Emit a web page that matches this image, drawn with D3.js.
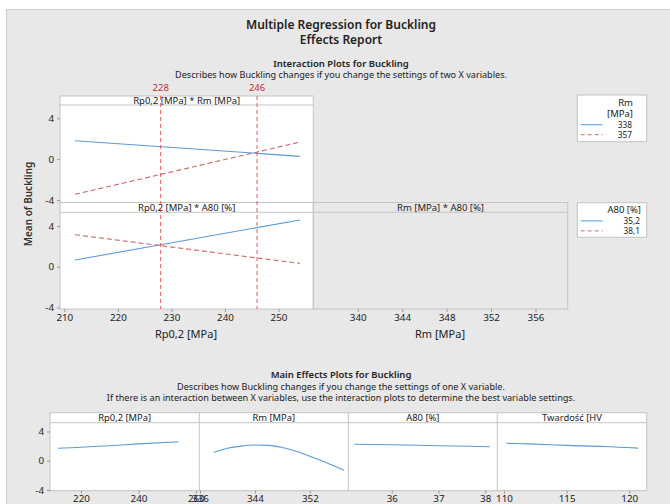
<!DOCTYPE html>
<html><head><meta charset="utf-8">
<script src="https://cdn.jsdelivr.net/npm/d3@7"></script>
<style>
html,body{margin:0;padding:0;background:#fff;}
svg text{font-family:"Noto Sans","Open Sans",sans-serif;}
</style></head>
<body><svg id="chart" width="670" height="504"></svg>
<script>
// ---------- data ----------
const rpEnds = [212, 254];
const rpRm338 = [1.8, 0.27];
const rpRm357 = [-3.45, 1.67];
const rpA80_352 = [0.66, 4.6];
const rpA80_381 = [3.15, 0.33];
const refLines = [228, 246];
const interYTicks = [4, 0, -4];
const rpTicks = [210, 220, 230, 240, 250];
const rmTicks = [340, 344, 348, 352, 356];

const mainRpX = [212, 220, 230, 240, 254];
const mainRpY = [1.7, 1.85, 2.05, 2.3, 2.6];
const mainRmX = [338, 340, 342, 344, 346, 348, 350, 352, 354, 356, 357];
const mainRmY = [1.15, 1.7, 2.0, 2.15, 2.1, 1.8, 1.3, 0.6, -0.1, -0.9, -1.3];
const mainA80X = [35.2, 36, 37, 38.1];
const mainA80Y = [2.25, 2.18, 2.05, 1.92];
const mainHVX = [110.2, 112, 115, 118, 120.7];
const mainHVY = [2.38, 2.3, 2.1, 1.95, 1.72];
const mainLabels = ["Rp0,2 [MPa]", "Rm [MPa]", "A80 [%]", "Twardość [HV"];
const mainYTicks = [4, 0, -4];
const mainXTicks = [[220, 240, 260], [336, 344, 352], [36, 37, 38], [110, 115, 120]];

// ---------- styles ----------
const BLUE = "#5b9bd5", RED = "#c8686a", VRED = "#e04848", BORDER = "#c4c4c4", TXT = "#222";
const FONT = '"Noto Sans","Open Sans",sans-serif';

const svg = d3.select("#chart");
svg.append("rect").attr("width", 670).attr("height", 504).attr("fill", "#fff");
svg.append("rect").attr("x", 6.5).attr("y", 9.5).attr("width", 664).attr("height", 496)
  .attr("fill", "#e8e8e8").attr("stroke", "#cdcdcd");

function txt(x, y, s, o = {}) {
  return svg.append("text").attr("x", x).attr("y", y).text(s)
    .attr("text-anchor", o.anchor || "middle")
    .attr("font-size", o.size || 9)
    .attr("font-weight", o.weight || "normal")
    .attr("fill", o.fill || TXT);
}
txt(341, 29, "Multiple Regression for Buckling", {size: 12, weight: 600});
txt(341, 43.5, "Effects Report", {size: 12, weight: 600});
txt(341, 66.5, "Interaction Plots for Buckling", {size: 9.5, weight: 600});
txt(341, 78, "Describes how Buckling changes if you change the settings of two X variables.", {size: 9.1});

// ---------- interaction plots ----------
const iL = 60, iM = 313.3, iR = 567.7;
const xRp = d3.scaleLinear().domain([209.2, 256.5]).range([iL, iM]);
const xRm = d3.scaleLinear().domain([336, 358.9]).range([iM, iR]);
const y1 = d3.scaleLinear().domain([-4.3, 5.3]).range([203, 105]);
const y2 = d3.scaleLinear().domain([-4.15, 5.35]).range([309, 212.3]);

// panel 1
svg.append("rect").attr("x", iL).attr("y", 96).attr("width", iM - iL).attr("height", 107)
  .attr("fill", "#fff").attr("stroke", BORDER);
svg.append("line").attr("x1", iL).attr("x2", iM).attr("y1", 105).attr("y2", 105).attr("stroke", BORDER);
txt((iL + iM) / 2, 103.8, "Rp0,2 [MPa] * Rm [MPa]", {size: 9.5});

// panel 2 (left) and panel 3 (right, empty)
svg.append("rect").attr("x", iL).attr("y", 202.5).attr("width", iM - iL).attr("height", 106.5)
  .attr("fill", "#fff").attr("stroke", BORDER);
svg.append("rect").attr("x", iM).attr("y", 202.5).attr("width", iR - iM).attr("height", 106.5)
  .attr("fill", "none").attr("stroke", BORDER);
svg.append("line").attr("x1", iL).attr("x2", iR).attr("y1", 212.3).attr("y2", 212.3).attr("stroke", BORDER);
txt((iL + iM) / 2, 210.8, "Rp0,2 [MPa] * A80 [%]", {size: 9.5});
txt((iM + iR) / 2, 210.8, "Rm [MPa] * A80 [%]", {size: 9.5});

const line = (xs, ys, xsc, ysc) => d3.line().x((d, i) => xsc(xs[i])).y(d => ysc(d))(ys);
function series(xs, ys, xsc, ysc, dashed) {
  svg.append("path").attr("d", line(xs, ys, xsc, ysc)).attr("fill", "none")
    .attr("stroke", dashed ? RED : BLUE).attr("stroke-width", 1.1)
    .attr("stroke-dasharray", dashed ? "5,3" : null);
}
series(rpEnds, rpRm338, xRp, y1, false);
series(rpEnds, rpRm357, xRp, y1, true);
series(rpEnds, rpA80_352, xRp, y2, false);
series(rpEnds, rpA80_381, xRp, y2, true);

// reference lines
refLines.forEach(v => {
  svg.append("line").attr("x1", xRp(v)).attr("x2", xRp(v)).attr("y1", 96).attr("y2", 309)
    .attr("stroke", VRED).attr("stroke-width", 0.9).attr("stroke-dasharray", "4,3");
  txt(xRp(v), 91, String(v), {size: 9.5, fill: "#b83232"});
});

function styleAxis(g) {
  g.select(".domain").remove();
  g.selectAll(".tick line").attr("stroke", "#999");
  g.selectAll(".tick text").attr("fill", TXT).attr("font-size", 9.8).attr("font-family", FONT);
}
const fmt = d => String(d);
svg.append("g").attr("transform", `translate(${iL},0)`)
  .call(d3.axisLeft(y1).tickValues(interYTicks).tickFormat(fmt).tickSize(3).tickPadding(3)).call(styleAxis);
svg.append("g").attr("transform", `translate(${iL},0)`)
  .call(d3.axisLeft(y2).tickValues(interYTicks).tickFormat(fmt).tickSize(3).tickPadding(3)).call(styleAxis);
svg.append("g").attr("transform", `translate(0,309)`)
  .call(d3.axisBottom(xRp).tickValues(rpTicks).tickFormat(fmt).tickSize(3).tickPadding(2)).call(styleAxis);
svg.append("g").attr("transform", `translate(0,309)`)
  .call(d3.axisBottom(xRm).tickValues(rmTicks).tickFormat(fmt).tickSize(3).tickPadding(2)).call(styleAxis);

txt(186, 337.5, "Rp0,2 [MPa]", {size: 11});
txt(440, 337.5, "Rm [MPa]", {size: 11});
svg.append("text").attr("transform", "translate(32,204) rotate(-90)").attr("text-anchor", "middle")
  .attr("font-size", 10).attr("font-weight", 600).attr("fill", "#333").text("Mean of Buckling");

// legends
function legend(y0, h, titleLines, labels, rightX) {
  svg.append("rect").attr("x", 577.3).attr("y", y0).attr("width", 69.4).attr("height", h)
    .attr("fill", "#fff").attr("stroke", BORDER);
  titleLines.forEach((t, i) => txt(rightX, y0 + 10.5 + i * 11.5, t, {size: 9.5, anchor: "end"}));
  const base = y0 + 10.5 + (titleLines.length - 1) * 11.5;
  labels.forEach((l, i) => {
    const yy = base + 10.5 + i * 10;
    svg.append("line").attr("x1", 580.7).attr("x2", 602.7).attr("y1", yy - 2.8).attr("y2", yy - 2.8)
      .attr("stroke", i ? RED : BLUE).attr("stroke-width", 1).attr("stroke-dasharray", i ? "4,3" : null);
    txt(rightX - 1, yy, l, {size: 8.3, anchor: "end"});
  });
}
legend(95, 46.7, ["Rm", "[MPa]"], ["338", "357"], 633);
legend(202.7, 34.6, ["A80 [%]"], ["35,2", "38,1"], 641);

// ---------- main effects ----------
txt(341, 378, "Main Effects Plots for Buckling", {size: 9.5, weight: 600});
txt(341, 389.8, "Describes how Buckling changes if you change the settings of one X variable.", {size: 9.1});
txt(341, 400.8, "If there is an interaction between X variables, use the interaction plots to determine the best variable settings.", {size: 9.1});

const mL = 50, mR = 646.7, mT = 412.7, mS = 422.7, mB = 490.7;
const splits = [50, 199.3, 348.3, 497.3, 646.7];
const mDomains = [[209.2, 261.2], [335.9, 357.6], [35.07, 38.26], [109.47, 121.39]];
const yM = d3.scaleLinear().domain([-4.1, 5.2]).range([mB, mS]);
svg.append("rect").attr("x", mL).attr("y", mT).attr("width", mR - mL).attr("height", mB - mT)
  .attr("fill", "#fff").attr("stroke", BORDER);
svg.append("line").attr("x1", mL).attr("x2", mR).attr("y1", mS).attr("y2", mS).attr("stroke", BORDER);
const mX = [mainRpX, mainRmX, mainA80X, mainHVX];
const mY = [mainRpY, mainRmY, mainA80Y, mainHVY];
for (let i = 0; i < 4; i++) {
  const xs = d3.scaleLinear().domain(mDomains[i]).range([splits[i], splits[i + 1]]);
  if (i > 0) svg.append("line").attr("x1", splits[i]).attr("x2", splits[i]).attr("y1", mT).attr("y2", mB).attr("stroke", BORDER);
  txt((splits[i] + splits[i + 1]) / 2, 420.5, mainLabels[i], {size: 9.4});
  svg.append("path").attr("d", d3.line().curve(d3.curveMonotoneX).x((d, j) => xs(mX[i][j])).y(d => yM(d))(mY[i]))
    .attr("fill", "none").attr("stroke", BLUE).attr("stroke-width", 1.1);
  svg.append("g").attr("transform", `translate(0,${mB})`)
    .call(d3.axisBottom(xs).tickValues(mainXTicks[i]).tickFormat(fmt).tickSize(3).tickPadding(1)).call(styleAxis);
}
svg.append("g").attr("transform", `translate(${mL},0)`)
  .call(d3.axisLeft(yM).tickValues(mainYTicks).tickFormat(fmt).tickSize(3).tickPadding(3)).call(styleAxis);
</script></body></html>
